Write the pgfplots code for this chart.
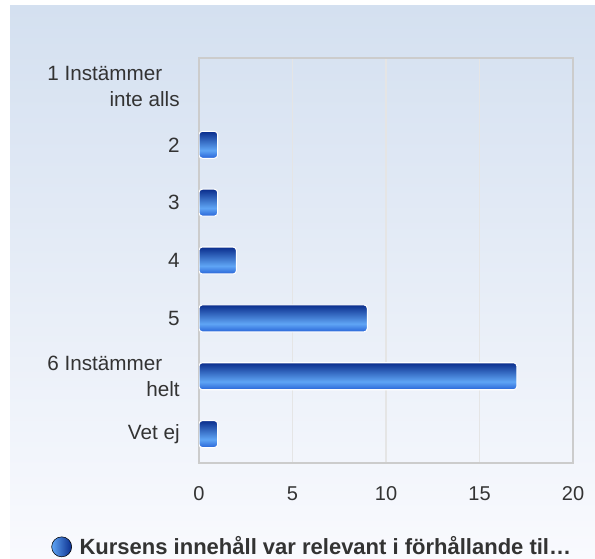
\documentclass[border=0pt]{standalone}
\usepackage{fontspec}
\setmainfont{Liberation Sans}
\usepackage{pgfplots}
\pgfplotsset{compat=1.18}
\definecolor{txt}{HTML}{333333}
\definecolor{bgtop}{RGB}{212,224,240}
\definecolor{bgbot}{RGB}{249,250,254}
\definecolor{bardark}{RGB}{10,45,140}
\definecolor{barlight}{RGB}{95,165,245}
\definecolor{barbot}{RGB}{40,100,215}
\pgfdeclareverticalshading{barshade}{100bp}{color(0bp)=(barbot); color(25bp)=(barbot); color(40bp)=(barlight); color(75bp)=(bardark); color(100bp)=(bardark)}
\pgfplotsset{mybar/.style={draw=white, line width=0.8pt, shading=barshade, rounded corners=2.5pt, bar shift=0pt, forget plot}}
\begin{document}
\begin{tikzpicture}
\useasboundingbox (0,0) rectangle (446.25pt,418.5pt);
\path[fill=white] (0,0) rectangle (446.25pt,418.5pt);
\shade[top color=bgtop, bottom color=bgbot] (7.5pt,0) rectangle (446.25pt,414pt);
\begin{axis}[
  at={(149.25pt,71.25pt)}, anchor=south west,
  scale only axis, width=280.5pt, height=303.75pt,
  xbar, bar width=20.25pt,
  xmin=0, xmax=20, xtick={0,5,10,15,20},
  ymin=-0.5, ymax=6.5, ytick={0,1,2,3,4,5,6},
  yticklabels={Vet ej,{6 Instämmer\makebox[13pt]{}\\helt},5,4,3,2,{1 Instämmer\makebox[13pt]{}\\inte alls}},
  yticklabel style={align=right, font=\fontsize{15.5}{19.5}\selectfont, text=txt, xshift=-11pt},
  xticklabel style={font=\fontsize{15}{18}\selectfont, text=txt, yshift=-14pt},
  /pgf/number format/assume math mode=true,
  major tick length=0pt,
  xmajorgrids, grid style={draw=black!10, line width=0.8pt},
  axis line style={draw=black!20, line width=1pt},
  legend style={at={(axis description cs:-0.406,-0.207)}, anchor=west, draw=none, fill=none,
    font=\bfseries\fontsize{16.5}{19}\selectfont, text=txt},
]
\addplot[mybar] coordinates {(1,0)};
\addplot[mybar] coordinates {(17,1)};
\addplot[mybar] coordinates {(9,2)};
\addplot[mybar] coordinates {(2,3)};
\addplot[mybar] coordinates {(1,4)};
\addplot[mybar] coordinates {(1,5)};
\addplot[mybar, draw=none] coordinates {(0,6)};
\addlegendimage{legend image code/.code={\shade[left color=barlight, right color=bardark] (0,0) circle (7.5pt); \path (11.25pt,0);}}
\addlegendentry{Kursens innehåll var relevant i förhållande til…}
\end{axis}
\end{tikzpicture}
\end{document}
